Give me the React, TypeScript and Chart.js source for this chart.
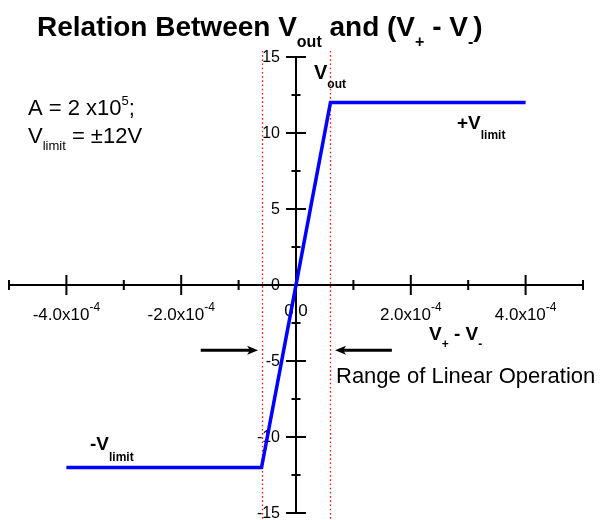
import React, { useEffect, useRef } from "react";
import { Chart, registerables } from "chart.js";

Chart.register(...registerables);

// Op-amp transfer curve: open-loop gain A = 2e5, saturation at ±12 V
const vDiff = [-4e-4, -6e-5, 6e-5, 4e-4];
const vOut = [-12, -12, 12, 12];

// Edges of the linear region (±Vlimit / A)
const linearBounds = [-6e-5, 6e-5];

// Axis ticks
const xMajorTicks = [-4e-4, -2e-4, 0, 2e-4, 4e-4];
const xTickMantissa = ["-4.0x10", "-2.0x10", "0.0", "2.0x10", "4.0x10"];
const xTickExponent = ["-4", "-4", "", "-4", "-4"];
const xMinorTicks = [-5e-4, -3e-4, -1e-4, 1e-4, 3e-4, 5e-4];
const yMajorTicks = [-15, -10, -5, 0, 5, 10, 15];
const yTickLabels = ["-15", "-10", "-5", "0", "5", "10", "15"];
const yMinorTicks = [-12.5, -7.5, -2.5, 2.5, 7.5, 12.5];

const FONT = "'Liberation Sans', Arial, Helvetica, sans-serif";

type Part = { t: string; size: number; bold?: boolean; dy?: number };

function font(size: number, bold?: boolean) {
  return `${bold ? "bold " : ""}${size}px ${FONT}`;
}

function richWidth(ctx: CanvasRenderingContext2D, parts: Part[]) {
  let w = 0;
  for (const p of parts) {
    ctx.font = font(p.size, p.bold);
    w += ctx.measureText(p.t).width;
  }
  return w;
}

function drawRich(
  ctx: CanvasRenderingContext2D,
  x: number,
  y: number,
  parts: Part[],
  align: "left" | "center" = "left"
) {
  let cx = align === "center" ? x - richWidth(ctx, parts) / 2 : x;
  ctx.textAlign = "left";
  ctx.textBaseline = "alphabetic";
  for (const p of parts) {
    ctx.font = font(p.size, p.bold);
    ctx.fillText(p.t, cx, y + (p.dy || 0));
    cx += ctx.measureText(p.t).width;
  }
}

function drawArrow(
  ctx: CanvasRenderingContext2D,
  x0: number,
  x1: number,
  y: number
) {
  const dir = Math.sign(x1 - x0);
  const head = 11;
  ctx.save();
  ctx.strokeStyle = "#000";
  ctx.fillStyle = "#000";
  ctx.lineWidth = 3;
  ctx.beginPath();
  ctx.moveTo(x0, y);
  ctx.lineTo(x1 - dir * head * 0.6, y);
  ctx.stroke();
  ctx.beginPath();
  ctx.moveTo(x1, y);
  ctx.lineTo(x1 - dir * head, y - 4.5);
  ctx.lineTo(x1 - dir * head * 0.75, y);
  ctx.lineTo(x1 - dir * head, y + 4.5);
  ctx.closePath();
  ctx.fill();
  ctx.restore();
}

const axesPlugin = {
  id: "centeredAxes",
  beforeDatasetsDraw(chart: any) {
    const ctx: CanvasRenderingContext2D = chart.ctx;
    const xs = chart.scales.x;
    const ys = chart.scales.y;
    const x0 = xs.getPixelForValue(0);
    const y0 = ys.getPixelForValue(0);

    ctx.save();
    // dotted boundaries of the linear region
    ctx.strokeStyle = "rgb(255,20,20)";
    ctx.lineWidth = 1.3;
    ctx.setLineDash([1.6, 2.6]);
    for (const b of linearBounds) {
      const px = Math.round(xs.getPixelForValue(b)) + 0.5;
      ctx.beginPath();
      ctx.moveTo(px, ys.getPixelForValue(15.4));
      ctx.lineTo(px, ys.getPixelForValue(-15.8));
      ctx.stroke();
    }
    ctx.setLineDash([]);

    // axis lines
    ctx.strokeStyle = "#000";
    ctx.lineWidth = 2;
    ctx.beginPath();
    ctx.moveTo(xs.getPixelForValue(-5e-4), y0);
    ctx.lineTo(xs.getPixelForValue(5e-4), y0);
    ctx.moveTo(x0, ys.getPixelForValue(15));
    ctx.lineTo(x0, ys.getPixelForValue(-15));
    ctx.stroke();

    // crossing tick marks
    ctx.beginPath();
    for (const v of xMajorTicks) {
      const px = xs.getPixelForValue(v);
      ctx.moveTo(px, y0 - 10);
      ctx.lineTo(px, y0 + 10);
    }
    for (const v of xMinorTicks) {
      const px = xs.getPixelForValue(v);
      ctx.moveTo(px, y0 - 5);
      ctx.lineTo(px, y0 + 5);
    }
    for (const v of yMajorTicks) {
      const py = ys.getPixelForValue(v);
      ctx.moveTo(x0 - 10, py);
      ctx.lineTo(x0 + 10, py);
    }
    for (const v of yMinorTicks) {
      const py = ys.getPixelForValue(v);
      ctx.moveTo(x0 - 4.5, py);
      ctx.lineTo(x0 + 4.5, py);
    }
    ctx.stroke();

    // tick labels
    ctx.fillStyle = "#000";
    xMajorTicks.forEach((v, i) => {
      const px = xs.getPixelForValue(v);
      const exp = xTickExponent[i];
      const parts: Part[] = [{ t: xTickMantissa[i], size: 17 }];
      if (exp) parts.push({ t: exp, size: 12, dy: -9 });
      drawRich(ctx, px, y0 + (exp ? 35 : 31), parts, "center");
    });
    ctx.font = font(16);
    ctx.textAlign = "right";
    ctx.textBaseline = "middle";
    yMajorTicks.forEach((v, i) => {
      ctx.fillText(yTickLabels[i], x0 - 16, ys.getPixelForValue(v) + 1);
    });
    ctx.restore();
  },
  afterDatasetsDraw(chart: any) {
    const ctx: CanvasRenderingContext2D = chart.ctx;
    const xs = chart.scales.x;
    const ys = chart.scales.y;
    ctx.save();
    ctx.fillStyle = "#000";

    // title
    drawRich(ctx, 37, 36, [
      { t: "Relation Between V", size: 28, bold: true },
      { t: "out", size: 16, bold: true, dy: 11 },
      { t: " and (V", size: 28, bold: true },
      { t: "+", size: 16, bold: true, dy: 11 },
      { t: " - V", size: 28, bold: true },
      { t: "-", size: 16, bold: true, dy: 11 },
      { t: ")", size: 28, bold: true },
    ]);

    // parameters
    drawRich(ctx, 28, 115, [
      { t: "A = 2 x10", size: 22 },
      { t: "5", size: 13, dy: -10 },
      { t: ";", size: 22 },
    ]);
    drawRich(ctx, 28, 143, [
      { t: "V", size: 22 },
      { t: "limit", size: 13, dy: 7 },
      { t: " = ±12V", size: 22 },
    ]);

    // axis names
    drawRich(ctx, 314, 79, [
      { t: "V", size: 20, bold: true },
      { t: "out", size: 12, bold: true, dy: 9 },
    ]);
    drawRich(ctx, 429, 340, [
      { t: "V", size: 19, bold: true },
      { t: "+", size: 12, bold: true, dy: 8 },
      { t: " - V", size: 19, bold: true },
      { t: "-", size: 12, bold: true, dy: 8 },
    ]);

    // saturation labels
    drawRich(ctx, 457, 129, [
      { t: "+V", size: 19, bold: true },
      { t: "limit", size: 12, bold: true, dy: 10 },
    ]);
    drawRich(ctx, 90, 450, [
      { t: "-V", size: 19, bold: true },
      { t: "limit", size: 12, bold: true, dy: 11 },
    ]);

    // linear range arrows and label
    const ay = ys.getPixelForValue(-4.3);
    drawArrow(ctx, xs.getPixelForValue(-1.66e-4), xs.getPixelForValue(-0.66e-4), ay);
    drawArrow(ctx, xs.getPixelForValue(1.67e-4), xs.getPixelForValue(0.68e-4), ay);
    drawRich(ctx, 336, 383, [{ t: "Range of Linear Operation", size: 22 }]);

    ctx.restore();
  },
};

export default function App() {
  const canvasRef = useRef<HTMLCanvasElement | null>(null);

  useEffect(() => {
    const canvas = canvasRef.current;
    if (!canvas) return;
    const chart = new Chart(canvas, {
      type: "scatter",
      data: {
        datasets: [
          {
            data: vDiff.map((x, i) => ({ x, y: vOut[i] })),
            showLine: true,
            borderColor: "#0000ff",
            backgroundColor: "#0000ff",
            borderWidth: 3.5,
            pointRadius: 0,
            tension: 0,
            borderJoinStyle: "miter",
          } as any,
        ],
      },
      options: {
        responsive: false,
        animation: false,
        devicePixelRatio: 1,
        layout: { padding: { left: 9, right: 20, top: 57, bottom: 7 } },
        plugins: {
          legend: { display: false },
          title: { display: false },
          tooltip: { enabled: false },
        },
        scales: {
          x: { type: "linear", min: -5e-4, max: 5e-4, display: false },
          y: { type: "linear", min: -15, max: 15, display: false },
        },
      },
      plugins: [axesPlugin],
    });
    return () => chart.destroy();
  }, []);

  return (
    <div style={{ position: "fixed", left: 0, top: 0, width: 603, height: 520, background: "#fff" }}>
      <canvas ref={canvasRef} width={603} height={520} style={{ display: "block" }} />
    </div>
  );
}
